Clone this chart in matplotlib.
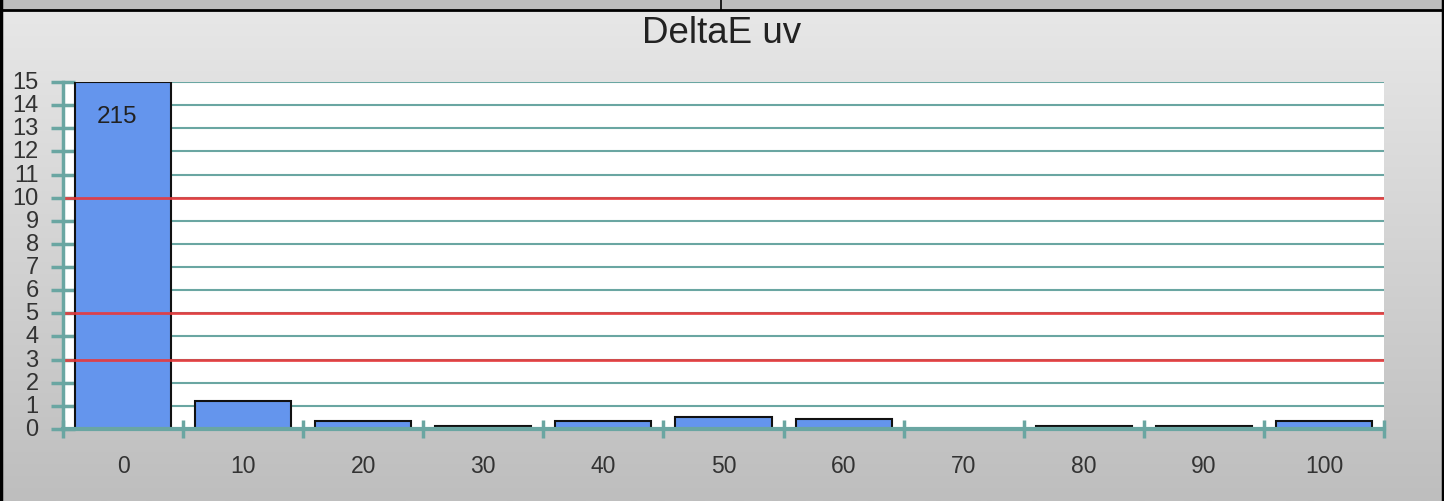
import numpy as np
import matplotlib
matplotlib.use("Agg")
import matplotlib.pyplot as plt
from matplotlib.lines import Line2D
from matplotlib.patches import Rectangle
from matplotlib.colors import LinearSegmentedColormap

plt.rcParams['font.family'] = ['Liberation Sans', 'DejaVu Sans']

categories = ["0", "10", "20", "30", "40", "50", "60", "70", "80", "90", "100"]
values = [215, 1.2, 0.35, 0.15, 0.35, 0.5, 0.42, 0.0, 0.12, 0.12, 0.35]
bar_labels = {0: "215"}
threshold_lines = [3, 5, 10]
title = "DeltaE uv"
ymax = 15

teal = "#6aa6a2"
bar_color = "#6495ed"

fig = plt.figure(figsize=(14.44, 5.02), dpi=100)

# background gradient
bg = fig.add_axes([0, 0, 1, 1], zorder=-10)
grad = np.linspace(0, 1, 256).reshape(-1, 1)
cmap = LinearSegmentedColormap.from_list("g", ["#e8e8e8", "#bebebe"])
bg.imshow(grad, aspect="auto", cmap=cmap, extent=[0, 1, 0, 1], origin="upper")
bg.set_xlim(0, 1); bg.set_ylim(0, 1)
bg.axis("off")
top_h = 11 / 502
bg.add_patch(Rectangle((0, 1 - top_h), 1, top_h, color="#bdbdbd", zorder=2))
bg.add_line(Line2D([0, 1], [1 - top_h, 1 - top_h], color="black", lw=2, zorder=3))
bg.add_line(Line2D([721 / 1444, 721 / 1444], [1 - top_h, 1], color="black", lw=1.2, zorder=3))
bg.add_line(Line2D([0.001, 0.001], [0, 1], color="black", lw=2.5, zorder=3))
bg.add_line(Line2D([0.999, 0.999], [0, 1], color="black", lw=2.5, zorder=3))

ax = fig.add_axes([63 / 1444, 72 / 502, (1384 - 63) / 1444, (430 - 83) / 502])
ax.set_facecolor("white")
x = np.arange(len(categories))
ax.set_xlim(-0.5, len(categories) - 0.5)
ax.set_ylim(0, ymax)

ax.set_yticks(range(0, ymax + 1))
ax.yaxis.grid(True, color=teal, lw=1.5, zorder=0)
ax.set_axisbelow(True)
for t in threshold_lines:
    ax.axhline(t, color="#e8383a", lw=2, alpha=0.9, zorder=4)

ax.bar(x, [min(v, ymax) for v in values], width=0.8, color=bar_color,
       edgecolor="#111111", lw=1.5, zorder=3, clip_on=True)
for i, lab in bar_labels.items():
    ax.text(x[i] - 0.05, min(values[i], ymax) - 1.45, lab, ha="center", va="center",
            fontsize=17.5, color="#222222", zorder=5)

ax.set_xticks(np.arange(-0.5, len(categories), 1.0))
ax.set_xticklabels([])
ax.set_xticks(x, minor=True)
ax.set_xticklabels(categories, minor=True, fontsize=16.5, color="#333333")
ax.tick_params(axis="x", which="major", direction="inout", length=13, width=2.5, color=teal)
ax.tick_params(axis="x", which="minor", length=0, pad=18)
ax.tick_params(axis="y", direction="inout", length=17, width=2.5, color=teal,
               labelsize=17, labelcolor="#333333", pad=9)
for lbl in ax.get_yticklabels():
    lbl.set_verticalalignment("center")

for s in ["top", "right"]:
    ax.spines[s].set_visible(False)
ax.spines["left"].set_color(teal)
ax.spines["left"].set_linewidth(2.5)
ax.spines["bottom"].set_color(teal)
ax.spines["bottom"].set_linewidth(3)
ax.spines["left"].set_zorder(6)
ax.spines["bottom"].set_zorder(6)

fig.text(722 / 1444, 1 - 34 / 502, title, ha="center", va="center", fontsize=26.5, color="#222222")

fig.savefig("out.png", dpi=100)
